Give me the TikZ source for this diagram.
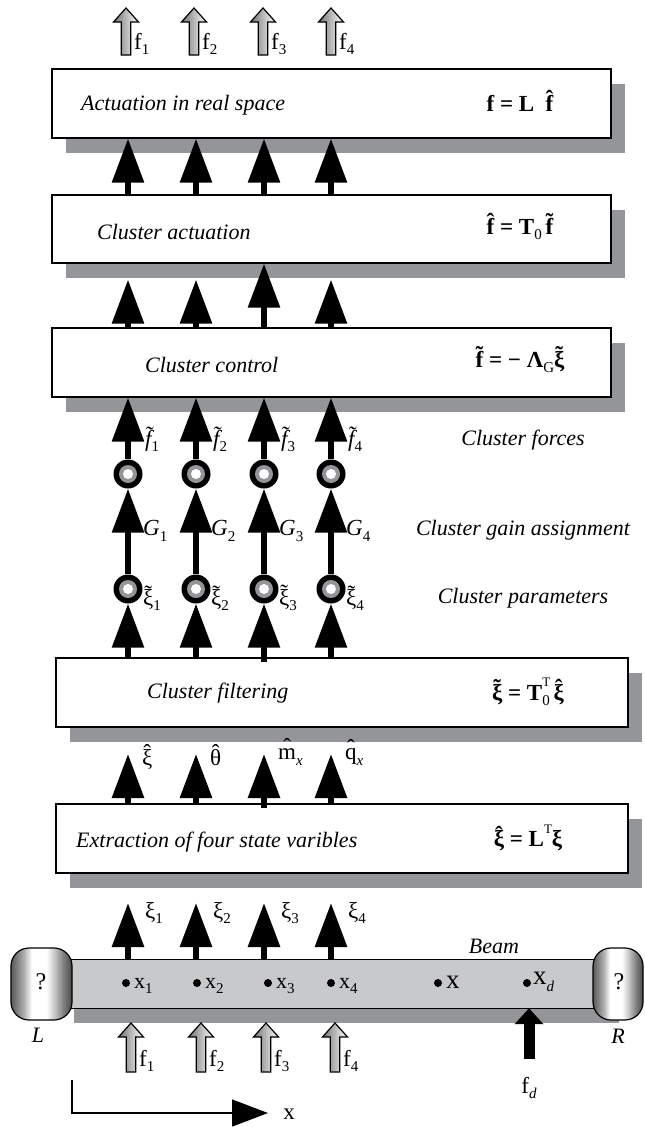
\documentclass[tikz,border=0pt]{standalone}
\usepackage{fontspec}
\setmainfont{Liberation Serif}
\usetikzlibrary{arrows.meta,calc,shadows}
\definecolor{shd}{RGB}{147,149,152}
\definecolor{beamc}{RGB}{200,201,203}
\pgfdeclarehorizontalshading{metal}{100bp}{color(0bp)=(black!65); color(25bp)=(black!65); color(30bp)=(black!50); color(36bp)=(black!30); color(42bp)=(white); color(54bp)=(white); color(60bp)=(black!20); color(68bp)=(black!50); color(75bp)=(black!72); color(100bp)=(black!72)}
\newcommand{\acc}[3]{\ooalign{#3\cr\hidewidth\raisebox{#2}{#1}\hidewidth\cr}}
\newcommand{\lo}[1]{\raisebox{-0.25em}{\fontsize{15}{15}\selectfont #1}}
\newcommand{\hi}[1]{\raisebox{0.6em}{\fontsize{13}{13}\selectfont #1}}
\newcommand{\hollowarr}[3]{%
  \draw[line width=1.2pt, left color=black!55, right color=white, draw=black, line join=miter]
  (#1-4.7,#3) -- (#1-4.7,#2+14) -- (#1-12.5,#2+14) -- (#1,#2) -- (#1+12.5,#2+14) -- (#1+4.7,#2+14) -- (#1+4.7,#3) -- cycle;}
\begin{document}
\begin{tikzpicture}[x=1pt,y=-1pt,
  box/.style={draw=black,line width=1.3pt,fill=white,inner sep=0pt,
    general shadow={shadow xshift=14pt,shadow yshift=-15pt,fill=shd,draw=none}},
  boxtxt/.style={font=\fontsize{22}{26}\selectfont\itshape,anchor=west,inner sep=0pt},
  formula/.style={font=\fontsize{23}{27}\selectfont\bfseries,inner sep=0pt},
  lab/.style={font=\fontsize{23}{27}\selectfont,anchor=west,inner sep=0pt},
  side/.style={font=\fontsize{22}{26}\selectfont\itshape,inner sep=0pt},
  bigarr/.style={line width=6pt,-{Triangle[length=44pt,width=31pt]}},
  ring/.style={circle,fill=black,minimum size=29pt,inner sep=0pt},
  dot/.style={circle,fill=black,minimum size=8pt,inner sep=0pt},
  endcap/.style={draw=black,line width=1.2pt,rounded corners=18pt,shading=metal},
  beamst/.style={fill=beamc,draw=none,inner sep=0pt,minimum width=545pt,minimum height=48pt,
    general shadow={shadow xshift=14pt,shadow yshift=-15pt,fill=shd,draw=none}}]
\fill[white] (0,0) rectangle (645,1127);
\useasboundingbox (0,0) rectangle (645,1127);

% boxes
\node[box,minimum width=559pt,minimum height=69pt] (b1) at (331.5,103.5) {};
\node[box,minimum width=559pt,minimum height=68pt] (b2) at (331.5,229) {};
\node[box,minimum width=559pt,minimum height=69pt] (b3) at (331.5,362.5) {};
\node[box,minimum width=572pt,minimum height=69pt] (b4) at (342,692.5) {};
\node[box,minimum width=572pt,minimum height=69pt] (b5) at (342,838.5) {};

\node[boxtxt] (t1) at (81,105) {Actuation in real space};
\node[boxtxt] (t2) at (97,232) {Cluster actuation};
\node[boxtxt] (t3) at (145,365) {Cluster control};
\node[boxtxt] (t4) at (147,693) {Cluster filtering};
\node[boxtxt] (t5) at (76,842) {Extraction of four state varibles};

\node[formula] (F1) at (520,103) {f = L \ \acc{ˆ}{.2em}{f}};
\node[formula] (F2) at (520,229) {\acc{ˆ}{.2em}{f} = T\lo{\mdseries 0}\,\acc{˜}{.2em}{f}};
\node[formula] (F3) at (520,362) {\acc{˜}{.2em}{f} = − Λ\lo{\mdseries G}\acc{˜}{.2em}{ξ}};
\node[formula] (F4) at (528,692) {\acc{˜}{.2em}{ξ} = T\rlap{\hi{\mdseries T}}\lo{\mdseries 0}\,\acc{ˆ}{.2em}{ξ}};
\node[formula] (F5) at (528,838) {\acc{ˆ}{.2em}{ξ} = L\hi{\mdseries T}ξ};

% beam
\node[beamst] (beam) at (332.5,984) {};
\draw[line width=1.2pt] (beam.north west) -- (beam.north east);
\draw[line width=1.2pt] (beam.south west) -- (beam.south east);
\draw[endcap] (11,948) rectangle (72,1020);
\draw[endcap] (593,948) rectangle (643,1020);
\node[font=\fontsize{24}{28}\selectfont] (q1) at (41,982) {?};
\node[font=\fontsize{24}{28}\selectfont] (q2) at (619,982) {?};
\node[side] (Ll) at (38,1035) {L};
\node[side] (Rl) at (618,1036) {R};
\node[side] (beamlab) at (494,946) {Beam};

% columns
\foreach \i/\x in {1/128,2/196,3/264,4/331}{
  \coordinate (k\i) at (\x,0);
  \node[ring] (u\i) at (\x,474) {};
  \node[ring] (l\i) at (\x,589) {};
  \coordinate (h\i) at (\x,754);
  \coordinate (p\i) at (\x,903);
  \draw[bigarr] (b2.north -| k\i) -- (b1.south -| k\i);
  \draw[bigarr] (u\i.north) -- (b3.south -| k\i);
  \draw[bigarr] (l\i.north) -- (u\i.south);
  \draw[bigarr] (beam.north -| k\i) -- (p\i);
  \fill[shd] (u\i.center) circle (9pt);
  \fill[white] (u\i.center) circle (5pt);
  \fill[shd] (l\i.center) circle (9pt);
  \fill[white] (l\i.center) circle (5pt);
  \node[lab] (ft\i) at (\x+17,441) {\textit{\acc{˜}{.15em}{f}}\lo{\i}};
  \node[lab] (g\i) at (\x+15,531) {\textit{G}\lo{\i}};
  \node[lab] (xt\i) at (\x+15,600) {\acc{˜}{.18em}{ξ}\lo{\i}};
  \node[lab] (xi\i) at (\x+17,913) {ξ\lo{\i}};
}
% box2 -> box3 gap: tips at shadow bottom except column 3
\foreach \i in {1,2,4}{
  \coordinate (s\i) at ($(b2.south -| k\i)+(0,16)$);
  \draw[bigarr] (b3.north -| k\i) -- (s\i);
}
\draw[bigarr] (b3.north -| k3) -- (b2.south -| k3);
% box4 -> lower circles, box5 -> box4 gap
\foreach \i in {1,2,4}{
  \draw[bigarr] (b4.north -| k\i) -- (l\i.south);
  \draw[bigarr] (b5.north -| k\i) -- (h\i);
}
\draw[bigarr,shorten <=-5pt] (b4.north -| k3) -- (l3.south);
\draw[bigarr,shorten <=-5pt] (b5.north -| k3) -- (h3);

\node[lab] (hx1) at (142,757) {\acc{ˆ}{.2em}{ξ}};
\node[lab] (hx2) at (210,757) {\acc{ˆ}{.2em}{θ}};
\node[lab] (hx3) at (278,757) {\acc{ˆ}{.2em}{m}\lo{\textit{x}}};
\node[lab] (hx4) at (345,757) {\acc{ˆ}{.2em}{q}\lo{\textit{x}}};

\node[side] (sl1) at (523,440) {Cluster forces};
\node[side] (sl2) at (523,530) {Cluster gain assignment};
\node[side] (sl3) at (523,598) {Cluster parameters};

% top hollow arrows
\foreach \i/\x in {1/126,2/194,3/263,4/331}{
  \hollowarr{\x}{8}{55}
  \node[lab,anchor=base west] (tf\i) at (\x+8,49) {f\lo{\i}};
}
% bottom hollow arrows
\foreach \i/\x in {1/131,2/201,3/266,4/335}{
  \hollowarr{\x}{1023}{1072}
  \node[lab,anchor=base west] (bf\i) at (\x+8,1066) {f\lo{\i}};
}
% beam points
\foreach \i/\x in {1/126,2/197,3/268,4/331}{
  \node[dot] (d\i) at (\x,983) {};
  \node[lab,font=\fontsize{22}{26}\selectfont] (dl\i) at (\x+8,986) {x\lo{\i}};
}
\node[dot] (d5) at (438,983) {};
\node[lab,font=\fontsize{27}{30}\selectfont] (dl5) at (446,982) {x};
\node[dot] (d6) at (527,983) {};
\node[lab,font=\fontsize{27}{30}\selectfont] (dl6) at (533,982) {x\lo{\textit{d}}};

% disturbance force
\coordinate (fd0) at (529,1059);
\draw[line width=11pt,-{Triangle[length=16pt,width=28pt]}] (fd0) -- (beam.south -| fd0);
\node[lab,anchor=center] (fdl) at (529,1088) {f\lo{\textit{d}}};

% x axis
\coordinate (ax0) at (72,1080);
\coordinate (ax1) at (72,1113);
\coordinate (ax2) at (268,1113);
\draw[line width=1.3pt,-{Triangle[length=36pt,width=27pt]}] (ax0) -- (ax1) -- (ax2);
\node[lab,anchor=center] (axl) at (289,1114) {x};
\end{tikzpicture}
\end{document}
